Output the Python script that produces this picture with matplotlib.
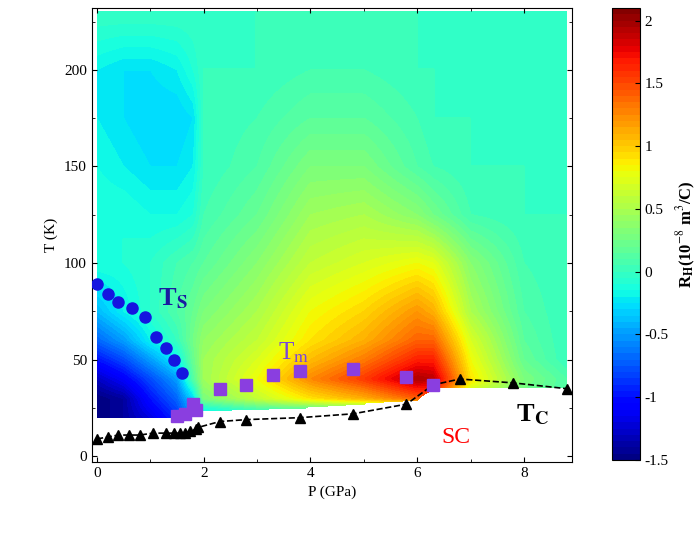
import numpy as np
import matplotlib
matplotlib.use("Agg")
import matplotlib.pyplot as plt

plt.rcParams['font.family'] = ['Liberation Serif', 'DejaVu Serif']
plt.rcParams['mathtext.fontset'] = 'stix'

# Hall coefficient field (10^-8 m^3/C), rows = T, cols = P
grid_P = [0, 0.5, 1, 1.5, 1.8, 2, 3, 4, 5, 6, 6.3, 7, 8, 8.8]
grid_T = [20, 25, 30, 40, 50, 60, 75, 100, 125, 150, 175, 200, 230]
rh_T20 = [-1.5, -1.4, -1.2, -0.9, -0.5, -0.3, -0.2, -0.1, 0.1, 0.2, 0.1, 0.1, 0.0, 0]
rh_T25 = [-1.5, -1.4, -1.1, -0.8, -0.4, -0.1, 0.1, 0.2, 0.3, 0.4, 0.3, 0.1, 0.1, 0]
rh_T30 = [-1.5, -1.4, -1.0, -0.7, -0.3, 0.3, 0.6, 0.9, 1.1, 1.4, 1.4, 0.5, 0.2, 0.1]
rh_T40 = [-1.3, -1.1, -0.8, -0.5, 0.1, 0.45, 0.8, 1.25, 1.55, 1.95, 1.9, 0.9, 0.3, 0.1]
rh_T50 = [-1.0, -0.8, -0.5, -0.2, 0.2, 0.45, 0.7, 1.05, 1.3, 1.65, 1.65, 0.8, 0.2, 0]
rh_T60 = [-0.7, -0.5, -0.2, 0.0, 0.25, 0.4, 0.6, 0.9, 1.1, 1.4, 1.4, 0.7, 0.15, 0]
rh_T75 = [-0.4, -0.2, -0.05, 0.1, 0.2, 0.3, 0.5, 0.8, 0.95, 1.2, 1.1, 0.5, 0.1, 0]
rh_T100 = [-0.1, -0.1, -0.05, 0.05, 0.1, 0.15, 0.35, 0.6, 0.7, 0.8, 0.75, 0.35, 0.05, 0]
rh_T125 = [-0.1, -0.1, -0.15, -0.15, -0.1, 0.05, 0.2, 0.45, 0.5, 0.35, 0.25, 0.05, 0, 0]
rh_T150 = [-0.15, -0.2, -0.25, -0.25, -0.2, 0, 0.1, 0.3, 0.3, 0.1, 0.05, 0, 0, 0]
rh_T175 = [-0.2, -0.25, -0.3, -0.3, -0.25, 0, 0.05, 0.15, 0.15, 0.05, 0, 0, 0, 0]
rh_T200 = [-0.2, -0.25, -0.25, -0.2, -0.1, 0, 0, 0.05, 0.05, 0, 0, 0, 0, 0]
rh_T230 = [0, 0, 0, 0, 0, 0, 0, 0, 0, 0, 0, 0, 0, 0]
rh_rows = [rh_T20, rh_T25, rh_T30, rh_T40, rh_T50, rh_T60, rh_T75,
           rh_T100, rh_T125, rh_T150, rh_T175, rh_T200, rh_T230]

# lower boundary of measured field
bound_P = [-0.1, 1.45, 1.5, 2, 4, 5, 6, 6.3, 7, 8, 8.8]
bound_T = [20, 20, 21, 23, 25, 27, 29, 35, 35, 35, 35]

# transition points
ts_P = [0, 0.2, 0.4, 0.65, 0.9, 1.1, 1.3, 1.45, 1.6]
ts_T = [89, 84, 80, 77, 72, 62, 56, 50, 43]
tm_P = [1.5, 1.65, 1.8, 1.85, 2.3, 2.8, 3.3, 3.8, 4.8, 5.8, 6.3]
tm_T = [21, 22, 27, 24, 35, 37, 42, 44, 45, 41, 37]
tc_P = [0, 0.2, 0.4, 0.6, 0.8, 1.05, 1.3, 1.45, 1.55, 1.65, 1.75, 1.85, 1.9,
        2.3, 2.8, 3.8, 4.8, 5.8, 6.3, 6.8, 7.8, 8.8]
tc_T = [9, 10, 11, 11, 11, 12, 12, 12, 12, 12, 13, 14, 15,
        18, 19, 20, 22, 27, 37, 40, 38, 35]

# bilinear interpolation onto fine grid
Z = np.array(rh_rows)
fp = np.linspace(0, 8.8, 300)
ft = np.linspace(20, 230, 300)
Zp = np.array([np.interp(fp, grid_P, row) for row in Z])
Zf = np.array([np.interp(ft, grid_T, Zp[:, j]) for j in range(len(fp))]).T
PP, TT = np.meshgrid(fp, ft)
lb = np.interp(fp, bound_P, bound_T)
Zf = np.clip(Zf, -1.5, 2.1)
Zf = np.ma.masked_where(TT < lb[None, :], Zf)

fig = plt.figure(figsize=(7, 5.33), dpi=100)
ax = fig.add_axes([0.131, 0.133, 0.686, 0.852])
levels = np.linspace(-1.5, 2.1, 73)
cf = ax.contourf(PP, TT, Zf, levels=levels, cmap='jet')

ax.plot(tc_P, tc_T, 'k--', lw=1.2, zorder=3)
ax.plot(tc_P, tc_T, 'k^', ms=7, zorder=4)
ax.plot(ts_P, ts_T, 'o', color='#1515e0', ms=8, zorder=4)
ax.plot(tm_P, tm_T, 's', color='#8a3ee0', ms=8, zorder=4)

ax.text(1.15, 78, 'T$_\\mathbf{S}$', color='#1a1aa0', fontsize=19, fontweight='bold')
ax.text(3.4, 50, 'T$_\\mathrm{m}$', color='#7a48d8', fontsize=18)
ax.text(7.85, 18, 'T$_\\mathbf{C}$', color='black', fontsize=19, fontweight='bold')
ax.text(6.45, 7, 'SC', color='red', fontsize=17)

ax.set_xlim(-0.1, 8.9)
ax.set_ylim(-3, 232)
ax.set_xticks([0, 2, 4, 6, 8])
ax.set_yticks([0, 50, 100, 150, 200])
ax.set_xticks(np.arange(0, 9, 1), minor=True)
ax.set_yticks(np.arange(0, 231, 25), minor=True)
ax.tick_params(direction='in', which='both', top=True, right=True, labelsize=11)
ax.set_xlabel('P (GPa)', fontsize=11)
ax.set_ylabel('T (K)', fontsize=11)

cax = fig.add_axes([0.874, 0.137, 0.04, 0.848])
cb = fig.colorbar(cf, cax=cax, ticks=[-1.5, -1, -0.5, 0, 0.5, 1, 1.5, 2])
cb.ax.set_yticklabels(['-1.5', '-1', '-0.5', '0', '0.5', '1', '1.5', '2'])
cb.ax.tick_params(direction='in', labelsize=11)
cb.set_label('R$_\\mathbf{H}$(10$^{-8}$ m$^3$/C)', fontsize=12, fontweight='bold')

fig.savefig('out.png', dpi=100)
